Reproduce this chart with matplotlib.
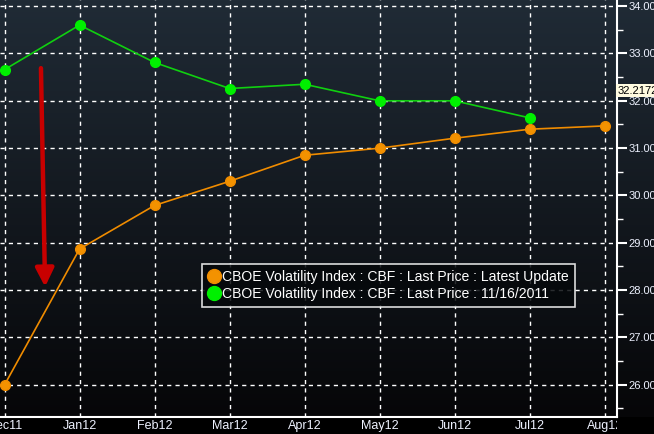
import numpy as np
import matplotlib
matplotlib.use("Agg")
import matplotlib.pyplot as plt
from matplotlib.patches import Rectangle

months = ["Dec11", "Jan12", "Feb12", "Mar12", "Apr12", "May12", "Jun12", "Jul12", "Aug12"]
latest = [26.00, 28.87, 29.79, 30.30, 30.85, 31.00, 31.21, 31.40, 31.47]
nov16 = [32.66, 33.60, 32.81, 32.26, 32.35, 32.00, 32.00, 31.64]
last_label = 32.2172
yticks = [26, 27, 28, 29, 30, 31, 32, 33, 34]
label_latest = "CBOE Volatility Index : CBF : Last Price : Latest Update"
label_nov16 = "CBOE Volatility Index : CBF : Last Price : 11/16/2011"

plt.rcParams["font.family"] = ["Liberation Sans", "DejaVu Sans"]

W, H = 654, 434
fig = plt.figure(figsize=(W / 100, H / 100), dpi=100, facecolor="black")

# background gradient
bot = 1 - 417 / H
bg = fig.add_axes([0, bot, 1, 1 - bot])
bg.set_axis_off()
top_c = np.array([32, 43, 54]) / 255
bot_c = np.array([6, 6, 8]) / 255
t = np.linspace(0, 1, 256)[:, None]
grad = top_c[None, :] * (1 - t) + bot_c[None, :] * t
grad = np.repeat(grad[:, None, :], 2, axis=1)
bg.imshow(grad, aspect="auto", extent=[0, 1, 0, 1], zorder=0)

ax = fig.add_axes([0, bot, 617 / W, 1 - bot])
ax.set_facecolor("none")
x = np.arange(len(months))
ax.set_xlim(-0.061, 8.165)
ax.set_ylim(25.32, 34.13)

ax.plot(x, latest, color="#f08c00", lw=1.2, marker="o", ms=7, mec="#f08c00", mfc="#f39200",
        label=label_latest, zorder=5)
ax.plot(x[:len(nov16)], nov16, color="#10d010", lw=1.2, marker="o", ms=7, mec="#00f000",
        mfc="#00f000", label=label_nov16, zorder=5)

ax.set_xticks(x)
ax.set_xticklabels(months)
ax.set_yticks(yticks)
ax.set_yticklabels([f"{v:.2f}" for v in yticks])
ax.set_yticks(np.arange(25.5, 34.1, 1.0), minor=True)
ax.yaxis.tick_right()
ax.grid(True, which="major", color="white", ls=(0, (3, 3)), lw=1)
for s in ["left", "top"]:
    ax.spines[s].set_visible(False)
for s in ["right", "bottom"]:
    ax.spines[s].set_color("white")
    ax.spines[s].set_linewidth(1.5)
ax.tick_params(axis="y", which="major", colors="white", length=7, width=1.5, labelsize=8,
               labelcolor="#eef2ff", pad=1.5)
ax.tick_params(axis="y", which="minor", colors="white", length=4, width=1)
ax.tick_params(axis="x", length=0, labelsize=9, labelcolor="#eef2ff", pad=2)

clip = Rectangle((0, 0), 617 / W, 1, transform=fig.transFigure)
for lab in ax.get_xticklabels():
    lab.set_clip_path(clip)

# red arrow annotation
ax.annotate("", xy=(0.54, 28.07), xytext=(0.485, 32.69),
            arrowprops=dict(arrowstyle="-|>,head_width=0.55,head_length=1.1", color="#c80000",
                            lw=3.2, shrinkA=0, shrinkB=0), zorder=6)

# last price label
ax.annotate(f"{last_label:.4f}", xy=(1.0, last_label), xycoords=("axes fraction", "data"),
            xytext=(0.5, 0), textcoords="offset points", va="center", ha="left",
            fontsize=8, color="black", annotation_clip=False,
            bbox=dict(boxstyle="square,pad=0.12", fc="#fffbe0", ec="none"))

leg = ax.legend(loc="upper left", bbox_to_anchor=(202 / 617, 1 - 264 / 417),
                bbox_transform=ax.transAxes, frameon=True, fontsize=10.1,
                handlelength=0.8, handletextpad=0.15, borderpad=0.45, labelspacing=0.2,
                borderaxespad=0, fancybox=False)
leg.get_frame().set_facecolor("#05080b")
leg.get_frame().set_alpha(0.85)
leg.get_frame().set_edgecolor("white")
leg.get_frame().set_linewidth(1.2)
for h in leg.legend_handles:
    h.set_linestyle("none")
    h.set_markersize(10)
for txt in leg.get_texts():
    txt.set_color("white")
leg.set_zorder(10)

fig.savefig("out.png", dpi=100, facecolor="black")
